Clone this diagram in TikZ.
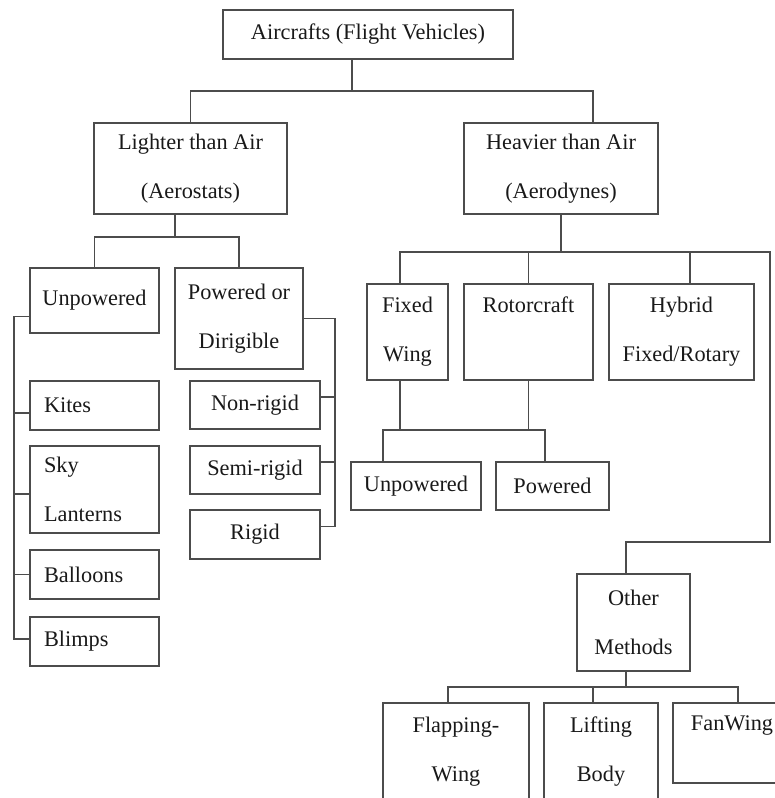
\documentclass[tikz,border=0pt]{standalone}
\usepackage{fontspec}
\setmainfont{Liberation Serif}
\usepackage{tikz}

\tikzset{
  box/.style={draw, rectangle, inner sep=0pt, align=center, text=black!90,
    font=\fontsize{22.3}{49}\selectfont},
  leftbox/.style={box, align=left, inner xsep=14pt, text width=101pt},
}

\begin{document}
\begin{tikzpicture}[x=1pt, y=-1pt, line width=1.1pt, color=black!70]
% Frame
\useasboundingbox (0,0) rectangle (775,798);
\clip (0,0) rectangle (775,798);

% Top
\node[box, minimum width=290pt, minimum height=49pt] (R) at (368,34.5) {Aircrafts (Flight Vehicles)};
\node[box, minimum width=193pt, minimum height=91pt] (L) at (190.5,168.5) {Lighter than Air\\(Aerostats)};
\node[box, minimum width=194pt, minimum height=91pt] (H) at (561,168.5) {Heavier than Air\\(Aerodynes)};

% Lighter than Air
\node[box, minimum width=129pt, minimum height=65pt] (U) at (94.5,300.5) {Unpowered};
\node[box, minimum width=128pt, minimum height=101pt] (P) at (239,318.5) {Powered or\\Dirigible};
\node[leftbox, minimum height=49pt] (K) at (94.5,405.5) {Kites};
\node[leftbox, minimum height=87pt] (S) at (94.5,489.5) {Sky\\Lanterns};
\node[leftbox, minimum height=49pt] (Ba) at (94.5,574.5) {Balloons};
\node[leftbox, minimum height=49pt] (Bm) at (94.5,641.5) {Blimps};
\node[box, minimum width=130pt, minimum height=48pt] (N) at (255,405) {Non-rigid};
\node[box, minimum width=130pt, minimum height=48pt] (Se) at (255,470) {Semi-rigid};
\node[box, minimum width=130pt, minimum height=49pt] (Ri) at (255,534.5) {Rigid};

% Heavier than Air
\node[box, minimum width=81pt, minimum height=96pt] (F) at (407.5,332) {Fixed\\Wing};
\node[box, minimum width=129pt, text height=28pt, text depth=68pt] (Ro) at (528.5,332) {Rotorcraft};
\node[box, minimum width=145pt, minimum height=96pt] (Hy) at (681.5,332) {Hybrid\\Fixed/Rotary};
\node[box, minimum width=130pt, minimum height=48pt] (U2) at (416,486) {Unpowered};
\node[box, minimum width=113pt, minimum height=48pt] (P2) at (552.5,486) {Powered};
\node[box, minimum width=113pt, minimum height=97pt] (O) at (633.5,622.5) {Other\\Methods};
\node[box, minimum width=146pt, minimum height=97pt] (Fl) at (456,751.5) {Flapping-\\Wing};
\node[box, minimum width=114pt, minimum height=97pt] (Li) at (601,751.5) {Lifting\\Body};
\node[box, minimum width=118pt, text height=27pt, text depth=53pt] (Fa) at (732,743) {FanWing};

% Level 1
\coordinate (r1) at (352,91);
\draw (r1 |- R.south) -- (r1);
\draw (L.north) |- (r1) -| ([xshift=32pt]H.north);

% Lighter than Air branches
\coordinate (l1) at (175,237);
\draw (l1 |- L.south) -- (l1);
\draw (U.north) |- (l1) -| (P.north);

% Unpowered list
\coordinate (s) at (14,0);
\draw ([yshift=-16pt]U.west) -| ([yshift=2.5pt]Bm.west -| s) -- ([yshift=2.5pt]Bm.west);
\foreach \n/\d in {K/-7.5, S/-4.5, Ba/0}
  \draw ([yshift=\d pt]\n.west) -- ([yshift=\d pt]\n.west -| s);

% Powered list
\coordinate (t) at (335,0);
\draw (P.east) -| ([yshift=8pt]Ri.east -| t) -- ([yshift=8pt]Ri.east);
\foreach \n in {N,Se}
  \draw ([yshift=8pt]\n.east) -- ([yshift=8pt]\n.east -| t);

% Heavier than Air branches
\coordinate (h1) at (561,252);
\coordinate (h2) at (770,542);
\draw (H.south) -- (h1);
\draw ([xshift=-7.5pt]F.north) |- (h2 |- h1) -- (h2) -| ([xshift=-7.5pt]O.north);
\draw (Ro.north) -- (Ro.north |- h1);
\draw ([xshift=8.5pt]Hy.north) -- ([xshift=8.5pt]Hy.north |- h1);

% Fixed Wing / Rotorcraft
\coordinate (f1) at (0,430);
\draw ([xshift=-7.5pt]F.south) -- ([xshift=-7.5pt]F.south |- f1);
\draw (Ro.south) -- (Ro.south |- f1);
\draw ([xshift=-33pt]U2.north) |- ([xshift=-7.5pt]P2.north |- f1) -- ([xshift=-7.5pt]P2.north);

% Other Methods
\coordinate (o1) at (626,687);
\draw ([xshift=-7.5pt]O.south) -- (o1);
\draw ([xshift=-8pt]Fl.north) |- ([xshift=6pt]Fa.north |- o1) -- ([xshift=6pt]Fa.north);
\draw ([xshift=-8pt]Li.north) -- ([xshift=-8pt]Li.north |- o1);

\end{tikzpicture}
\end{document}
